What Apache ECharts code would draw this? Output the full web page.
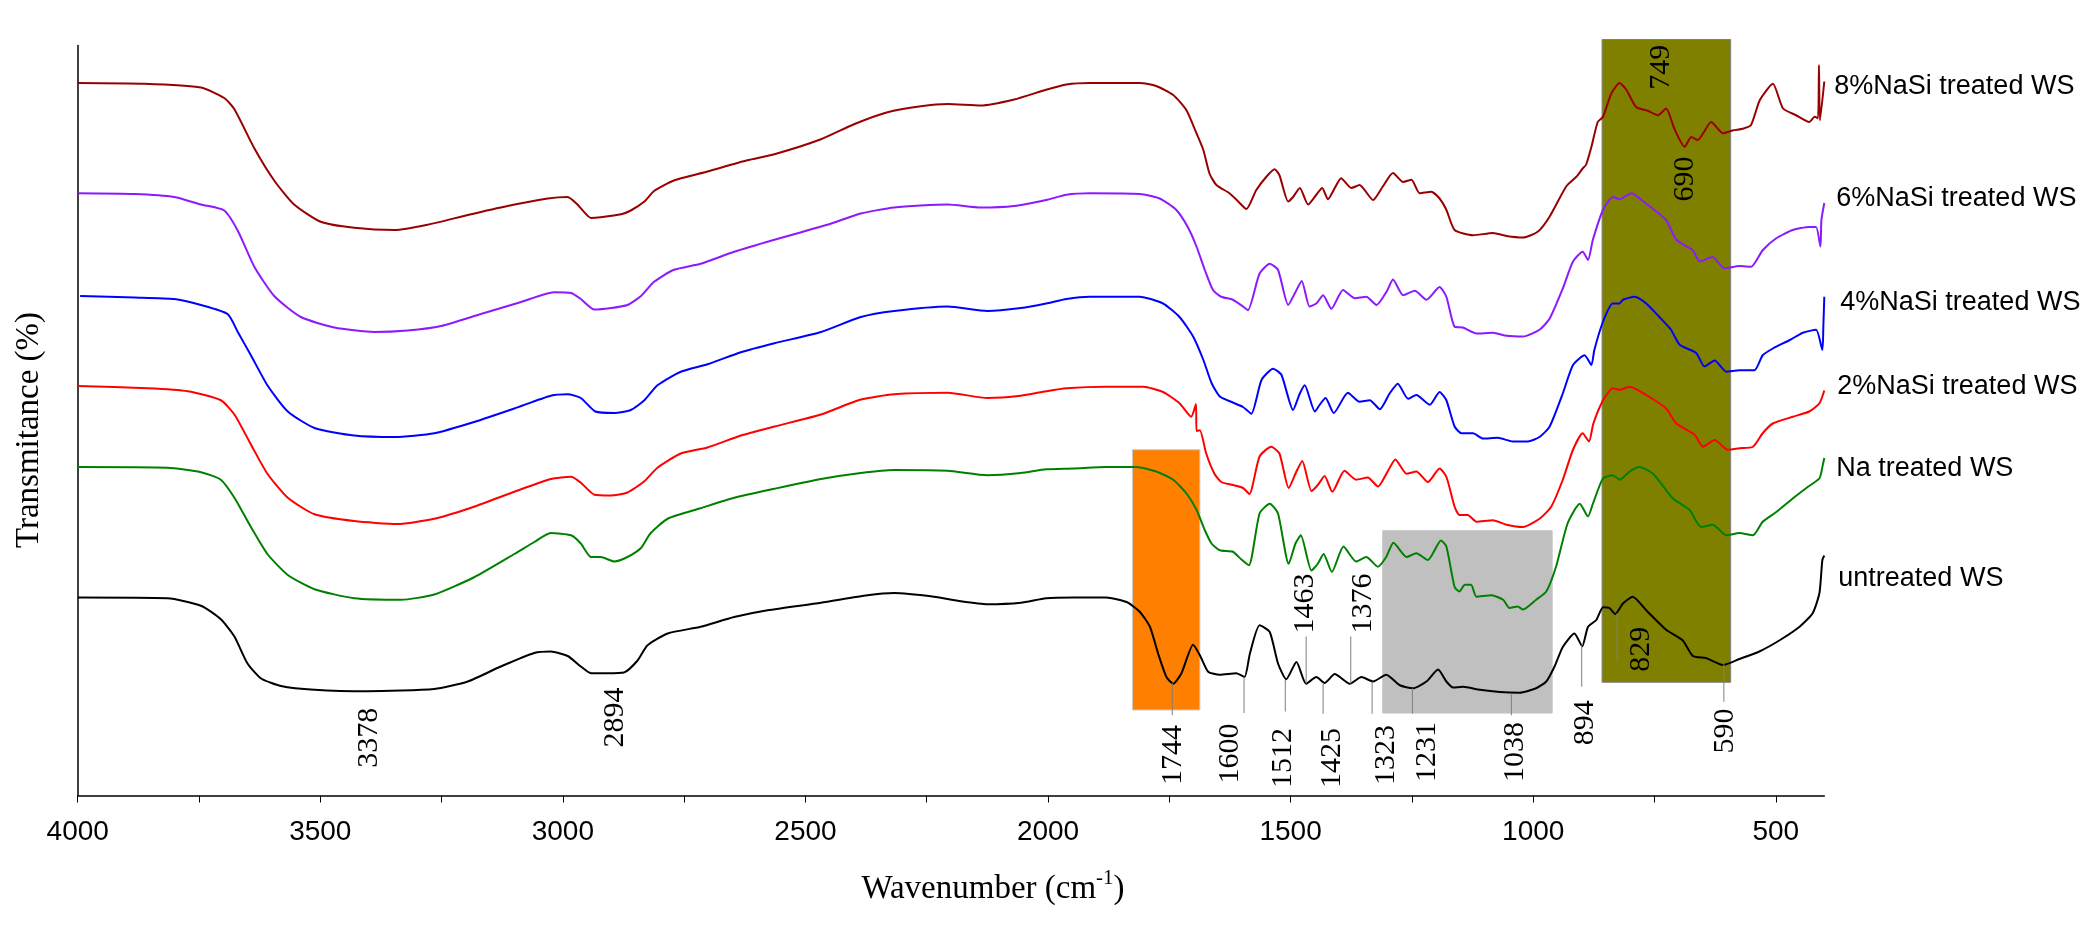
<!DOCTYPE html>
<html>
<head>
<meta charset="utf-8">
<title>FTIR spectra of WS</title>
<script src="https://cdn.jsdelivr.net/npm/echarts@6/dist/echarts.min.js"></script>
<style>
    html, body { margin: 0; padding: 0; background: #fff; }
    #chart { width: 2092px; height: 929px; }
</style>
</head>
<body>
<div id="chart"></div>
<script>
// spectra, [wavenumber cm-1, transmittance (offset, arbitrary units)]
var wsNaSi8 = [
    [4000,95.0],[3863,94.9],[3746,94.4],[3698,93.0],[3677,91.5],[3636,86.3],[3595,82.0],[3554,78.8],[3499,76.5],[3430,75.7],
    [3347,75.4],[3279,76.1],[3196,77.4],[3114,78.6],[3031,79.6],[2990,79.8],[2970,78.8],[2942,77.0],[2922,77.1],[2880,77.5],
    [2860,78.0],[2832,79.2],[2812,80.6],[2771,82.0],[2702,83.2],[2620,84.7],[2564,85.5],[2468,87.5],[2400,89.5],[2331,91.1],
    [2262,91.9],[2207,92.2],[2139,92.0],[2070,92.8],[2004,94.1],[1962,94.8],[1914,95.0],[1811,95.0],[1777,94.6],[1742,93.4],
    [1715,91.4],[1694,88.3],[1680,86.1],[1667,82.9],[1653,81.4],[1626,80.3],[1608,79.2],[1591,78.2],[1571,80.7],[1550,82.5],
    [1533,83.5],[1523,82.7],[1505,79.2],[1495,79.8],[1481,81.0],[1464,78.8],[1447,80.1],[1435,81.0],[1423,79.5],[1409,81.0],
    [1396,82.3],[1375,81.0],[1358,81.4],[1330,79.4],[1310,81.2],[1289,83.0],[1268,81.8],[1251,82.1],[1234,80.3],[1210,80.5],
    [1193,79.6],[1179,78.1],[1162,75.4],[1124,74.7],[1083,75.0],[1055,74.6],[1021,74.4],[990,75.2],[966,77.2],[932,81.2],
    [911,82.5],[898,83.6],[891,84.1],[880,86.5],[867,89.8],[856,90.5],[839,93.6],[822,95.0],[808,94.1],[788,91.8],
    [764,91.3],[743,90.7],[726,91.6],[709,88.9],[688,86.5],[674,87.8],[661,87.4],[633,89.8],[609,88.3],[588,88.7],
    [568,88.9],[551,89.4],[533,92.7],[506,94.9],[485,91.6],[458,90.7],[431,89.8],[420,90.5],[413,90.3],[411,97.4],
    [409,90.0],[400,95.2]
];
var wsNaSi6 = [
    [4000,80.3],[3883,80.2],[3801,79.8],[3746,78.8],[3698,78.0],[3670,75.3],[3636,70.5],[3595,66.6],[3540,63.8],[3471,62.4],
    [3389,61.8],[3320,62.0],[3251,62.6],[3169,64.2],[3086,65.8],[3018,67.1],[2983,67.0],[2963,66.2],[2935,64.8],[2901,65.0],
    [2867,65.4],[2839,66.6],[2812,68.5],[2771,70.1],[2716,70.9],[2647,72.5],[2564,74.1],[2455,76.1],[2386,77.6],[2317,78.4],
    [2207,78.8],[2139,78.4],[2070,78.6],[2004,79.4],[1962,80.1],[1914,80.3],[1811,80.2],[1770,79.6],[1736,78.1],[1712,75.8],
    [1694,73.2],[1677,70.1],[1660,67.4],[1643,66.5],[1619,66.1],[1598,65.2],[1588,64.7],[1564,69.6],[1543,70.9],[1526,70.1],
    [1505,65.4],[1491,67.0],[1477,68.6],[1461,65.2],[1447,65.6],[1433,66.7],[1416,64.9],[1392,67.4],[1368,66.3],[1344,66.5],
    [1323,65.4],[1302,67.2],[1289,68.8],[1268,66.7],[1244,67.3],[1220,66.1],[1193,67.8],[1179,66.5],[1162,62.5],[1145,62.4],
    [1117,61.6],[1083,61.7],[1055,61.3],[1021,61.2],[987,62.1],[966,63.6],[939,67.6],[918,71.2],[898,72.5],[887,71.4],
    [877,74.1],[856,78.1],[836,79.8],[822,79.5],[798,80.3],[767,78.9],[726,76.7],[705,74.1],[671,72.7],[657,71.2],
    [630,71.8],[606,70.3],[575,70.6],[551,70.5],[527,72.7],[499,74.3],[465,75.4],[431,75.8],[417,75.8],[408,73.2],
    [406,76.7],[400,79.0]
];
var wsNaSi4 = [
    [3995,66.6],[3883,66.4],[3801,66.2],[3746,65.4],[3691,64.2],[3670,61.8],[3643,58.7],[3609,54.7],[3567,51.2],[3512,49.0],
    [3430,48.0],[3347,47.8],[3265,48.3],[3183,49.8],[3100,51.6],[3025,53.3],[2990,53.5],[2963,53.0],[2933,51.2],[2894,51.0],
    [2860,51.4],[2832,52.7],[2805,54.7],[2757,56.5],[2702,57.5],[2633,59.1],[2564,60.3],[2468,61.8],[2386,63.8],[2317,64.6],
    [2207,65.2],[2125,64.6],[2056,65.0],[2004,65.6],[1962,66.2],[1914,66.5],[1811,66.5],[1763,65.6],[1729,63.8],[1701,61.2],
    [1680,58.1],[1663,55.0],[1646,53.2],[1619,52.4],[1598,51.8],[1581,50.9],[1560,55.4],[1536,56.9],[1519,56.1],[1495,51.4],
    [1481,53.6],[1471,54.7],[1450,51.2],[1440,52.1],[1428,53.0],[1411,51.0],[1382,53.7],[1358,52.5],[1337,52.7],[1316,51.5],
    [1296,53.6],[1279,54.9],[1258,52.9],[1241,53.4],[1213,52.1],[1193,53.8],[1179,52.7],[1162,49.2],[1148,48.3],[1124,48.3],
    [1104,47.6],[1073,47.7],[1042,47.2],[1011,47.2],[987,47.8],[966,49.2],[939,53.6],[918,57.4],[894,58.7],[880,57.4],
    [874,59.4],[856,63.2],[836,65.6],[822,65.6],[815,66.1],[791,66.5],[767,65.6],[740,63.8],[716,62.1],[698,60.1],
    [664,59.0],[647,57.2],[626,58.0],[602,56.5],[575,56.7],[544,56.7],[527,58.7],[506,59.6],[472,60.7],[444,61.7],
    [417,62.1],[404,59.4],[402,62.5],[400,66.5]
];
var wsNaSi2 = [
    [4000,54.6],[3856,54.3],[3773,53.9],[3705,52.7],[3677,50.8],[3643,46.8],[3609,42.9],[3567,39.7],[3512,37.5],[3430,36.6],
    [3341,36.2],[3265,36.9],[3183,38.5],[3100,40.5],[3025,42.2],[2983,42.5],[2963,41.7],[2935,40.1],[2901,40.0],[2867,40.4],
    [2832,41.9],[2805,43.7],[2757,45.6],[2702,46.4],[2633,48.0],[2564,49.2],[2468,50.8],[2386,52.8],[2317,53.5],[2207,53.7],
    [2125,53.0],[2056,53.3],[2004,53.9],[1962,54.3],[1880,54.5],[1804,54.5],[1763,53.8],[1729,52.3],[1705,50.5],[1695,52.2],
    [1694,48.6],[1687,48.7],[1674,45.6],[1657,42.9],[1643,41.8],[1619,41.4],[1598,41.0],[1585,40.2],[1564,45.2],[1540,46.5],
    [1523,45.6],[1504,41.0],[1488,43.2],[1476,44.6],[1457,40.6],[1444,41.4],[1430,42.6],[1414,40.5],[1389,43.3],[1365,42.1],
    [1341,42.4],[1320,41.2],[1300,43.2],[1284,44.8],[1261,42.9],[1241,43.2],[1217,41.8],[1193,43.6],[1179,42.5],[1162,38.5],
    [1152,37.4],[1135,37.4],[1117,36.5],[1083,36.7],[1055,36.1],[1021,35.8],[987,36.9],[963,38.5],[939,42.1],[918,46.1],
    [898,48.3],[885,47.2],[876,49.6],[856,52.7],[836,54.3],[822,54.1],[801,54.5],[767,53.4],[726,51.6],[705,49.6],
    [667,48.1],[650,46.5],[626,47.4],[599,46.1],[575,46.3],[547,46.5],[527,48.3],[506,49.6],[465,50.5],[431,51.2],
    [410,52.3],[400,54.0]
];
var wsNa = [
    [4000,43.8],[3815,43.7],[3746,43.1],[3705,42.1],[3677,39.7],[3643,35.8],[3609,32.2],[3567,29.4],[3512,27.5],[3430,26.3],
    [3334,26.1],[3265,26.8],[3183,29.1],[3100,32.2],[3059,33.8],[3025,35.0],[2983,34.7],[2963,33.6],[2942,31.8],[2922,31.8],
    [2894,31.2],[2867,31.8],[2839,33.0],[2819,35.0],[2784,36.9],[2716,38.3],[2647,39.7],[2564,40.9],[2468,42.2],[2386,43.0],
    [2317,43.4],[2207,43.3],[2125,42.7],[2056,43.0],[2004,43.5],[1948,43.6],[1880,43.8],[1818,43.8],[1777,43.2],[1742,42.1],
    [1715,40.3],[1694,38.1],[1677,35.4],[1663,33.6],[1646,32.7],[1619,32.5],[1602,31.5],[1586,30.7],[1564,37.6],[1543,38.9],
    [1526,37.6],[1504,30.9],[1490,33.6],[1479,34.7],[1457,30.0],[1444,30.9],[1432,32.2],[1415,29.8],[1391,33.2],[1365,31.2],
    [1344,31.8],[1320,30.5],[1303,31.8],[1288,33.7],[1261,31.8],[1241,32.3],[1217,31.4],[1190,34.0],[1179,33.2],[1162,27.8],
    [1152,27.2],[1141,28.1],[1128,28.1],[1117,26.5],[1086,26.7],[1062,26.1],[1049,25.0],[1032,25.2],[1021,24.8],[994,26.1],
    [973,27.2],[953,30.5],[929,36.3],[904,38.9],[887,37.2],[877,38.9],[856,42.3],[836,42.7],[822,42.1],[801,43.2],
    [781,43.8],[753,42.9],[712,39.6],[678,38.1],[654,35.8],[630,36.1],[602,34.7],[575,35.0],[547,34.7],[527,36.5],
    [499,37.8],[465,39.6],[437,41.0],[410,42.3],[403,44.1],[400,45.0]
];
var wsUntreated = [
    [4000,26.4],[3815,26.3],[3746,25.3],[3705,23.5],[3677,21.2],[3650,17.6],[3622,15.6],[3581,14.6],[3512,14.1],[3402,13.9],
    [3265,14.2],[3196,15.2],[3128,17.2],[3059,19.0],[3025,19.2],[2990,18.6],[2963,17.2],[2942,16.3],[2908,16.3],[2874,16.4],
    [2846,18.0],[2826,20.0],[2784,21.6],[2716,22.5],[2647,23.8],[2578,24.7],[2468,25.7],[2372,26.7],[2317,27.0],[2235,26.5],
    [2180,25.9],[2125,25.5],[2056,25.7],[2004,26.3],[1948,26.4],[1880,26.4],[1838,25.8],[1811,24.5],[1790,22.5],[1773,18.9],
    [1756,15.8],[1742,14.9],[1725,16.3],[1701,20.1],[1687,18.7],[1670,16.5],[1646,16.1],[1612,16.3],[1595,15.8],[1584,18.9],
    [1564,22.7],[1543,21.8],[1526,17.6],[1509,15.5],[1488,17.8],[1468,14.9],[1447,15.8],[1430,15.0],[1409,16.2],[1378,14.9],
    [1354,15.8],[1330,15.2],[1303,16.1],[1275,14.7],[1248,14.3],[1220,15.2],[1196,16.8],[1179,15.2],[1165,14.4],[1145,14.5],
    [1110,14.1],[1069,13.8],[1028,13.7],[994,14.3],[973,15.2],[956,17.2],[939,19.8],[915,21.6],[899,19.9],[887,22.5],
    [870,23.4],[856,25.1],[843,25.0],[831,24.2],[815,25.6],[795,26.5],[767,24.7],[726,22.1],[692,20.7],[671,18.6],
    [643,18.3],[609,17.4],[575,18.2],[534,19.2],[492,20.7],[451,22.5],[424,24.3],[410,27.0],[404,31.4],[400,32.0]
];

var seriesNames = ['8%NaSi treated WS', '6%NaSi treated WS', '4%NaSi treated WS', '2%NaSi treated WS', 'Na treated WS', 'untreated WS'];
var seriesData = [wsNaSi8, wsNaSi6, wsNaSi4, wsNaSi2, wsNa, wsUntreated];

// shaded bands: [from cm-1, to cm-1, bottom, top]
var bandRanges = [[1826, 1687, 11.4, 46.1], [1310, 961, 11.0, 35.3], [858, 593, 15.1, 100.8]];

// assigned peaks: label, where the label sits [cm-1, level], guide line [cm-1, top, bottom]
var peakLabels = ['3378', '2894', '1744', '1600', '1512', '1463', '1425', '1376', '1323', '1231', '1038', '894', '829', '749', '690', '590'];
var peakTextAt = [[3400, 11.7], [2892, 14.4], [1743, 9.4], [1624, 9.6], [1516, 9.0], [1470, 21.6], [1415, 9.0], [1351, 21.6],
    [1303, 9.4], [1218, 9.8], [1037, 9.8], [894, 12.7], [778, 22.5], [736, 100.1], [687, 85.2], [604, 11.6]];
var peakLines = [null, null, [1744, 15.0, 10.7], [1596, 15.8, 11.0], [1511, 15.4, 11.2], [1468, 21.2, 14.9], [1433, 14.9, 10.9],
    [1376, 21.2, 14.9], [1332, 15.2, 10.9], [1249, 14.3, 10.9], [1045, 13.6, 10.7], [900, 20.1, 14.5], [827, 24.3, 17.8],
    null, null, [607, 17.6, 12.5]];

var tickLabels = [4000, 3500, 3000, 2500, 2000, 1500, 1000, 500];
var tickValues = [4000, 3750, 3500, 3250, 3000, 2750, 2500, 2250, 2000, 1750, 1500, 1250, 1000, 750, 500];

var lineColors = ['#990000', '#8c1aff', '#0000ff', '#ff0000', '#008000', '#000000'];
var bandStyles = [['#ff8000', '#c8c8c8'], ['#c0c0c0', '#c0c0c0'], ['#808000', '#7f7f7f']];
var nameShift = [[10, 5], [12, -4], [16, 6], [13, -4], [12, 11], [14, 23]];

var serif = '"Liberation Serif", "Times New Roman", serif';
var sans = '"Liberation Sans", Arial, sans-serif';

var chart = echarts.init(document.getElementById('chart'));
var series = [];

// bands under the spectra
series.push({
    type: 'custom',
    name: 'bands',
    z: 1,
    clip: false,
    silent: true,
    data: bandRanges,
    encode: { x: [0, 1], y: [2, 3] },
    renderItem: function (params, api) {
        var a = api.coord([api.value(0), api.value(3)]);
        var b = api.coord([api.value(1), api.value(2)]);
        var s = bandStyles[params.dataIndex];
        return {
            type: 'rect',
            shape: {
                x: Math.min(a[0], b[0]), y: Math.min(a[1], b[1]),
                width: Math.abs(b[0] - a[0]), height: Math.abs(b[1] - a[1])
            },
            style: { fill: s[0], stroke: s[1], lineWidth: 1 }
        };
    }
});

seriesData.forEach(function (d, i) {
    series.push({
        type: 'line',
        name: seriesNames[i],
        data: d,
        z: 2,
        symbol: 'none',
        smooth: 0.2,
        silent: true,
        lineStyle: { color: lineColors[i], width: 2 },
        itemStyle: { color: lineColors[i] }
    });
});

// peak labels and guide lines
series.push({
    type: 'custom',
    name: 'peaks',
    z: 3,
    clip: false,
    silent: true,
    data: peakTextAt,
    encode: { x: 0, y: 1 },
    renderItem: function (params, api) {
        var i = params.dataIndex;
        var p = api.coord([api.value(0), api.value(1)]);
        var ln = peakLines[i];
        var kids = [];
        if (ln) {
            var t = api.coord([ln[0], ln[1]]);
            var b = api.coord([ln[0], ln[2]]);
            kids.push({
                type: 'line',
                shape: { x1: t[0], y1: t[1], x2: b[0], y2: b[1] },
                style: { stroke: '#7f7f7f', lineWidth: 1 }
            });
        }
        var above = ln && api.value(1) >= ln[1];
        kids.push({
            type: 'text',
            x: p[0], y: p[1],
            rotation: Math.PI / 2,
            style: {
                text: peakLabels[i], fill: '#000', fontSize: 30, fontFamily: serif,
                align: above ? 'left' : 'right', verticalAlign: 'middle'
            }
        });
        return { type: 'group', children: kids };
    }
});

// series names at the right end of each trace
series.push({
    type: 'custom',
    name: 'names',
    z: 3,
    clip: false,
    silent: true,
    data: seriesData.map(function (d) { return d[d.length - 1]; }),
    encode: { x: 0, y: 1 },
    renderItem: function (params, api) {
        var i = params.dataIndex;
        var p = api.coord([api.value(0), api.value(1)]);
        return {
            type: 'text',
            x: p[0] + nameShift[i][0], y: p[1] + nameShift[i][1],
            style: {
                text: seriesNames[i], fill: '#000', fontSize: 27, fontFamily: sans,
                align: 'left', verticalAlign: 'middle'
            }
        };
    }
});

var option = {
    animation: false,
    backgroundColor: '#fff',
    grid: { left: 77.7, right: 267.7, top: 45.5, bottom: 133.5 },
    xAxis: {
        type: 'value',
        inverse: true,
        min: 400,
        max: 4000,
        name: 'Wavenumber (cm{sup|-1})',
        nameLocation: 'middle',
        nameGap: 72,
        nameTextStyle: {
            color: '#000', fontFamily: serif, fontSize: 33, lineHeight: 44,
            padding: [0, 0, 0, 84],
            rich: { sup: { color: '#000', fontFamily: serif, fontSize: 21, lineHeight: 21, verticalAlign: 'top' } }
        },
        axisLine: { show: true, onZero: false, lineStyle: { color: '#000', width: 1.5 } },
        axisTick: { show: true, length: 7, lineStyle: { color: '#000', width: 1 }, customValues: tickValues },
        axisLabel: {
            customValues: tickLabels, color: '#000', fontSize: 28, fontFamily: sans, margin: 23,
            formatter: function (v) { return String(v); }
        },
        splitLine: { show: false }
    },
    yAxis: {
        type: 'value',
        min: 0,
        max: 100,
        name: 'Transmitance (%)',
        nameLocation: 'middle',
        nameGap: 32,
        nameTextStyle: { color: '#000', fontFamily: serif, fontSize: 33, padding: [0, 19, 0, 0] },
        axisLine: { show: true, onZero: false, lineStyle: { color: '#000', width: 1.5 } },
        axisTick: { show: false },
        axisLabel: { show: false },
        splitLine: { show: false }
    },
    series: series
};
chart.setOption(option);
</script>
</body>
</html>
